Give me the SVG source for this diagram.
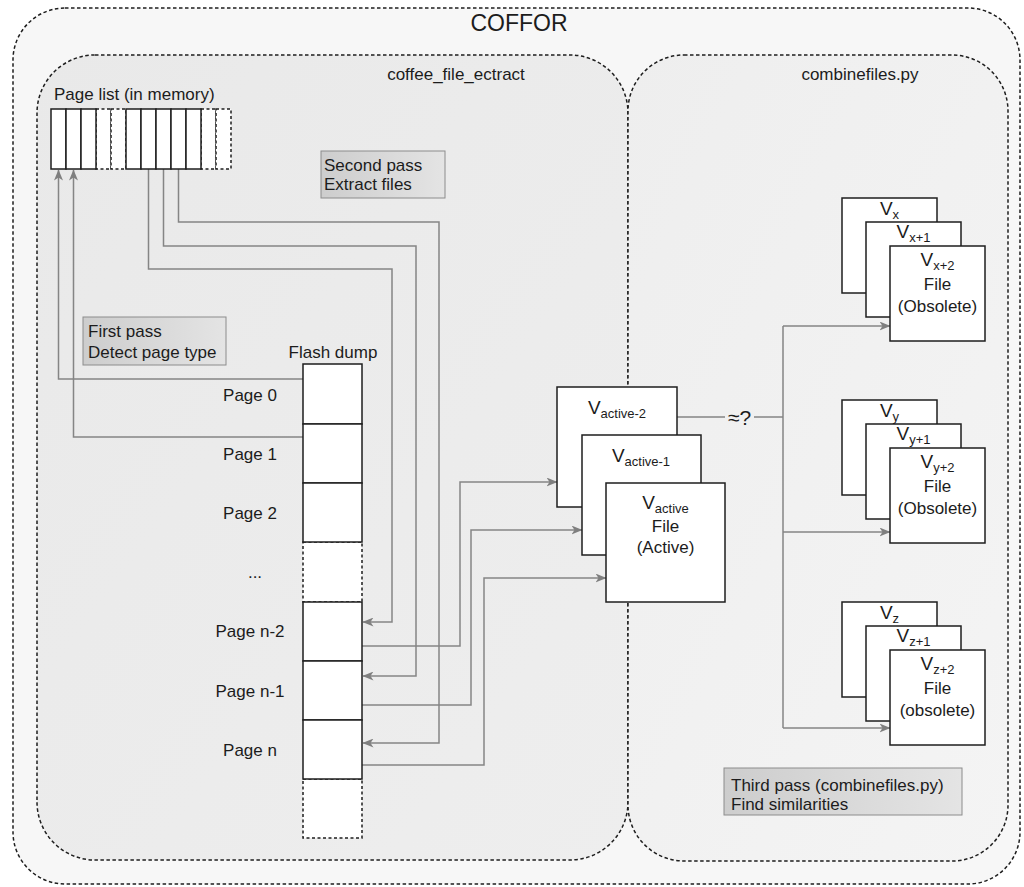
<svg xmlns="http://www.w3.org/2000/svg" width="1024" height="887" viewBox="0 0 1024 887">
  <defs>
    <marker id="arr" markerWidth="11" markerHeight="9" refX="10.5" refY="4.5" orient="auto" markerUnits="userSpaceOnUse">
      <path d="M0,0 L11,4.5 L0,9 L3,4.5 z" fill="#7f7f7f"/>
    </marker>
    <linearGradient id="note" x1="0" y1="0" x2="1" y2="0">
      <stop offset="0" stop-color="#cdcdcd"/>
      <stop offset="1" stop-color="#e4e4e4"/>
    </linearGradient>
    <linearGradient id="bgLeft" x1="0" y1="0" x2="1" y2="1">
      <stop offset="0" stop-color="#e9e9e9"/>
      <stop offset="1" stop-color="#eeeeee"/>
    </linearGradient>
    <linearGradient id="bgRight" x1="0" y1="0" x2="1" y2="1">
      <stop offset="0" stop-color="#eeeeee"/>
      <stop offset="1" stop-color="#f4f4f4"/>
    </linearGradient>
  </defs>
  <style>
    text { font-family: "Liberation Sans", Arial, Helvetica, sans-serif; font-size: 17px; fill: #1c1c1c; }
    .mid { text-anchor: middle; }
    .sub { font-size: 13px; }
    .big { font-size: 19px; }
    .frame { stroke: #1e1e1e; stroke-width: 1.5; stroke-dasharray: 3.5 2.5; }
    .box { fill: #ffffff; stroke: #1e1e1e; stroke-width: 1.5; }
    .dbox { fill: #ffffff; stroke: #1e1e1e; stroke-width: 1.5; stroke-dasharray: 3 2.5; }
    .note { fill: url(#note); stroke: #8c8c8c; stroke-width: 1; }
    .wire { fill: none; stroke: #858585; stroke-width: 1.5; }
    .tip { marker-end: url(#arr); }
  </style>

  <rect width="1024" height="887" fill="#ffffff"/>

  <!-- containers -->
  <g id="coffor">
    <rect class="frame" x="13" y="8" width="1007" height="876" rx="52" ry="52" fill="#f7f7f7"/>
    <text class="mid" x="519" y="31" style="font-size:23px">COFFOR</text>
  </g>
  <g id="coffee_file_ectract">
    <rect class="frame" x="37" y="55" width="591" height="805" rx="58" ry="58" fill="url(#bgLeft)"/>
    <text class="mid" x="456" y="80">coffee_file_ectract</text>
  </g>
  <g id="combinefiles">
    <rect class="frame" x="628" y="55" width="380" height="806" rx="56" ry="56" fill="url(#bgRight)"/>
    <text class="mid" x="860" y="80">combinefiles.py</text>
  </g>

  <!-- notes -->
  <g id="note-second-pass">
    <rect class="note" x="321" y="151" width="124" height="47"/>
    <text x="324" y="171">Second pass</text>
    <text x="324" y="190">Extract files</text>
  </g>
  <g id="note-first-pass">
    <rect class="note" x="83" y="317" width="143" height="48"/>
    <text x="88" y="337">First pass</text>
    <text x="88" y="358">Detect page type</text>
  </g>
  <g id="note-third-pass">
    <rect class="note" x="724" y="768" width="238" height="47"/>
    <text x="731" y="791">Third pass (combinefiles.py)</text>
    <text x="731" y="810">Find similarities</text>
  </g>

  <!-- connectors -->
  <g id="connectors">
    <!-- first pass: flash pages back into the page list -->
    <path class="wire tip" d="M303,379 H58.5 V170"/>
    <path class="wire tip" d="M303,437 H73.5 V170"/>
    <!-- second pass: page list entries to flash pages -->
    <path class="wire tip" d="M178.5,169 V222 H439 V743 H363"/>
    <path class="wire tip" d="M163.5,169 V246 H416 V676 H363"/>
    <path class="wire tip" d="M148.5,169 V269 H392 V622 H363"/>
    <!-- extracted pages into file versions -->
    <path class="wire tip" d="M362,646 H460 V482 H557"/>
    <path class="wire tip" d="M362,705 H471 V530 H582"/>
    <path class="wire tip" d="M362,765 H484 V578 H606"/>
    <!-- similarity comparison -->
    <path class="wire" d="M677,417 H725"/>
    <path class="wire" d="M754,417 H783"/>
    <path class="wire" d="M783,326 V728"/>
    <path class="wire tip" d="M783,326 H890"/>
    <path class="wire tip" d="M783,532 H890"/>
    <path class="wire tip" d="M783,728 H890"/>
    <text class="mid" x="739.5" y="425" style="font-size:21px">≈?</text>
  </g>

  <!-- page list -->
  <g id="page-list">
    <text x="54" y="100">Page list (in memory)</text>
    <rect class="dbox" x="96" y="109" width="15" height="60"/>
    <rect class="dbox" x="111" y="109" width="15" height="60"/>
    <rect class="dbox" x="201" y="109" width="15" height="60"/>
    <rect class="dbox" x="216" y="109" width="15" height="60"/>
    <rect class="box" x="51" y="109" width="15" height="60"/>
    <rect class="box" x="66" y="109" width="15" height="60"/>
    <rect class="box" x="81" y="109" width="15" height="60"/>
    <rect class="box" x="126" y="109" width="15" height="60"/>
    <rect class="box" x="141" y="109" width="15" height="60"/>
    <rect class="box" x="156" y="109" width="15" height="60"/>
    <rect class="box" x="171" y="109" width="15" height="60"/>
    <rect class="box" x="186" y="109" width="15" height="60"/>
  </g>

  <!-- flash dump -->
  <g id="flash-dump">
    <text class="mid" x="333" y="358">Flash dump</text>
    <rect class="dbox" x="303" y="542" width="59" height="60"/>
    <rect class="dbox" x="303" y="779" width="59" height="59"/>
    <rect class="box" x="303" y="364" width="59" height="60"/>
    <rect class="box" x="303" y="424" width="59" height="59"/>
    <rect class="box" x="303" y="483" width="59" height="59"/>
    <rect class="box" x="303" y="602" width="59" height="59"/>
    <rect class="box" x="303" y="661" width="59" height="59"/>
    <rect class="box" x="303" y="720" width="59" height="59"/>
    <text class="mid" x="250" y="401">Page 0</text>
    <text class="mid" x="250" y="460">Page 1</text>
    <text class="mid" x="250" y="519">Page 2</text>
    <text class="mid" x="255" y="578">...</text>
    <text class="mid" x="250" y="637">Page n-2</text>
    <text class="mid" x="250" y="697">Page n-1</text>
    <text class="mid" x="250" y="756">Page n</text>
  </g>

  <!-- active file versions -->
  <g id="active-stack">
    <rect class="box" x="557" y="387" width="120" height="120"/>
    <text class="mid" x="617" y="414"><tspan class="big">V</tspan><tspan class="sub" dy="4">active-2</tspan></text>
    <rect class="box" x="582" y="435" width="119" height="120"/>
    <text class="mid" x="641" y="462"><tspan class="big">V</tspan><tspan class="sub" dy="4">active-1</tspan></text>
    <rect class="box" x="606" y="483" width="119" height="119"/>
    <text class="mid" x="665.5" y="509"><tspan class="big">V</tspan><tspan class="sub" dy="4">active</tspan></text>
    <text class="mid" x="665.5" y="532">File</text>
    <text class="mid" x="665.5" y="553">(Active)</text>
  </g>

  <!-- obsolete version stacks -->
  <g id="stack-x">
    <rect class="box" x="842" y="198" width="95" height="95"/>
    <text class="mid" x="889.5" y="215"><tspan class="big">V</tspan><tspan class="sub" dy="4">x</tspan></text>
    <rect class="box" x="866" y="222" width="95" height="95"/>
    <text class="mid" x="913.5" y="238"><tspan class="big">V</tspan><tspan class="sub" dy="4">x+1</tspan></text>
    <rect class="box" x="890" y="246" width="95" height="95"/>
    <text class="mid" x="937.5" y="266"><tspan class="big">V</tspan><tspan class="sub" dy="4">x+2</tspan></text>
    <text class="mid" x="937.5" y="290">File</text>
    <text class="mid" x="937.5" y="312">(Obsolete)</text>
  </g>
  <g id="stack-y">
    <rect class="box" x="842" y="400" width="95" height="95"/>
    <text class="mid" x="889.5" y="417"><tspan class="big">V</tspan><tspan class="sub" dy="4">y</tspan></text>
    <rect class="box" x="866" y="424" width="95" height="95"/>
    <text class="mid" x="913.5" y="440"><tspan class="big">V</tspan><tspan class="sub" dy="4">y+1</tspan></text>
    <rect class="box" x="890" y="448" width="95" height="95"/>
    <text class="mid" x="937.5" y="468"><tspan class="big">V</tspan><tspan class="sub" dy="4">y+2</tspan></text>
    <text class="mid" x="937.5" y="492">File</text>
    <text class="mid" x="937.5" y="514">(Obsolete)</text>
  </g>
  <g id="stack-z">
    <rect class="box" x="842" y="602" width="95" height="95"/>
    <text class="mid" x="889.5" y="619"><tspan class="big">V</tspan><tspan class="sub" dy="4">z</tspan></text>
    <rect class="box" x="866" y="626" width="95" height="95"/>
    <text class="mid" x="913.5" y="642"><tspan class="big">V</tspan><tspan class="sub" dy="4">z+1</tspan></text>
    <rect class="box" x="890" y="650" width="95" height="95"/>
    <text class="mid" x="937.5" y="670"><tspan class="big">V</tspan><tspan class="sub" dy="4">z+2</tspan></text>
    <text class="mid" x="937.5" y="694">File</text>
    <text class="mid" x="937.5" y="716">(obsolete)</text>
  </g>
</svg>
